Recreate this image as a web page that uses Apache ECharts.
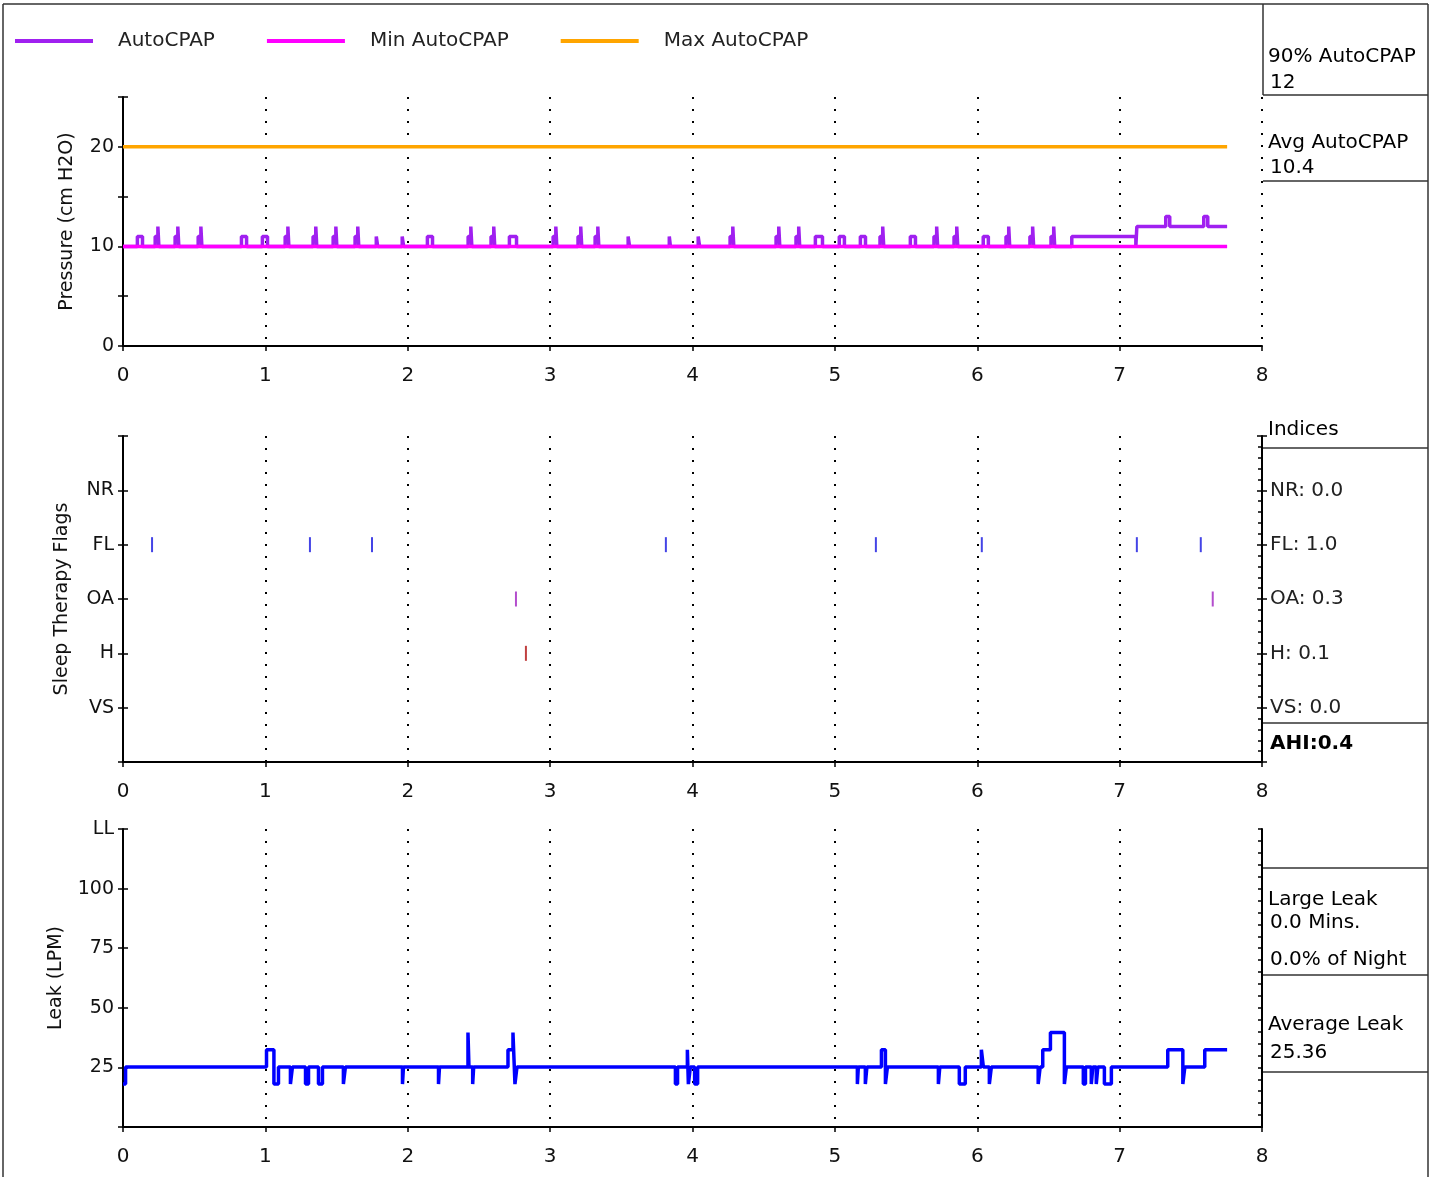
<!DOCTYPE html>
<html><head><meta charset="utf-8">
<script src="https://cdn.jsdelivr.net/npm/echarts@6/dist/echarts.min.js"></script>
<style>html,body{margin:0;padding:0;background:#fff}#c{width:1432px;height:1177px}</style>
</head><body><div id="c"></div>
<script>
// ---------- data ----------
const hourTicks = [0, 1, 2, 3, 4, 5, 6, 7, 8];
const pressureSeriesNames = ['AutoCPAP', 'Min AutoCPAP', 'Max AutoCPAP'];
// AutoCPAP change points [hour, cmH2O] (value holds until next point)
const autoCpapSteps = [
  [0,10],
  [0.101,11],[0.137,10],
  [0.226,11],[0.245,12],[0.252,10],
  [0.366,11],[0.385,12],[0.392,10],
  [0.528,11],[0.547,12],[0.554,10],
  [0.832,11],[0.868,10],
  [0.979,11],[1.015,10],
  [1.139,11],[1.158,12],[1.165,10],
  [1.335,11],[1.354,12],[1.361,10],
  [1.476,11],[1.495,12],[1.502,10],
  [1.630,11],[1.649,12],[1.656,10],
  [1.779,11],[1.789,10],
  [1.961,11],[1.971,10],
  [2.138,11],[2.174,10],
  [2.424,11],[2.443,12],[2.450,10],
  [2.585,11],[2.604,12],[2.611,10],
  [2.714,11],[2.764,10],
  [3.021,11],[3.040,12],[3.047,10],
  [3.196,11],[3.215,12],[3.222,10],
  [3.316,11],[3.335,12],[3.342,10],
  [3.548,11],[3.558,10],
  [3.837,11],[3.845,10],
  [4.040,11],[4.050,10],
  [4.264,11],[4.283,12],[4.290,10],
  [4.587,11],[4.606,12],[4.613,10],
  [4.727,11],[4.746,12],[4.753,10],
  [4.863,11],[4.913,10],
  [5.031,11],[5.067,10],
  [5.179,11],[5.215,10],
  [5.317,11],[5.336,12],[5.343,10],
  [5.530,11],[5.566,10],
  [5.696,11],[5.715,12],[5.722,10],
  [5.837,11],[5.856,12],[5.863,10],
  [6.042,11],[6.078,10],
  [6.202,11],[6.221,12],[6.228,10],
  [6.370,11],[6.389,12],[6.396,10],
  [6.518,11],[6.537,12],[6.544,10],
  [6.664,11],[7.114,10],[7.121,12],
  [7.324,13],[7.352,12],
  [7.591,13],[7.619,12],
  [7.755,12]
];
const minAutoCpap = [[0,10],[7.755,10]];
const maxAutoCpap = [[0,20],[7.755,20]];

const flagCategories = ['VS', 'H', 'OA', 'FL', 'NR'];     // y = 1..5
const flagIndices    = ['0.0', '0.1', '0.3', '1.0', '0.0'];
const flFlags = [0.204, 1.313, 1.749, 3.813, 5.288, 6.032, 7.121, 7.570];
const oaFlags = [2.760, 7.654];
const hFlags  = [2.830];

// Leak change points [hour, L/min]
const leakSteps = [
  [0,18],[0.018,25.2],
  [1.008,32.4],[1.060,18],[1.092,25.2],
  [1.176,18],[1.190,25.2],
  [1.282,18],[1.303,25.2],
  [1.373,18],[1.401,25.2],
  [1.548,18],[1.562,25.2],
  [1.963,18],[1.970,25.2],
  [2.216,18],[2.223,25.2],
  [2.423,39.6],[2.430,25.2],[2.456,18],[2.463,25.2],
  [2.704,32.4],[2.739,39.6],[2.753,18],[2.767,25.2],
  [3.880,18],[3.895,25.2],
  [3.964,32.4],[3.971,18],[3.985,25.2],[4.015,18],[4.036,25.2],
  [5.158,18],[5.165,25.2],
  [5.214,18],[5.225,25.2],
  [5.327,32.4],[5.355,18],[5.369,25.2],
  [5.727,18],[5.737,25.2],
  [5.874,18],[5.916,25.2],
  [6.029,32.4],[6.043,25.2],[6.085,18],[6.099,25.2],
  [6.428,18],[6.442,25.2],
  [6.460,32.4],[6.514,39.6],[6.612,18],[6.626,25.2],
  [6.745,18],[6.760,25.2],
  [6.801,18],[6.812,25.2],
  [6.836,18],[6.847,25.2],
  [6.893,18],[6.942,25.2],
  [7.338,32.4],[7.444,18],[7.458,25.2],
  [7.598,32.4],[7.755,32.4]
];
const leakTickLabels = {0: '', 25: '25', 50: '50', 75: '75', 100: '100', 125: 'LL'};

const pressureStats = [['90% AutoCPAP', '12'], ['Avg AutoCPAP', '10.4']];
const indicesTitle = 'Indices';
const ahiText = 'AHI:0.4';
const leakStats = ['Large Leak', '0.0 Mins.', '0.0% of Night', 'Average Leak', '25.36'];

// ---------- chart ----------
const FONT = 'DejaVu Sans';
const TXT = '#111';
const chart = echarts.init(document.getElementById('c'), null, {renderer: 'canvas'});

function xAxis(grid) {
  return {
    type: 'value', gridIndex: grid, min: hourTicks[0], max: hourTicks[hourTicks.length - 1], interval: 1,
    axisLine: {show: true, onZero: false, lineStyle: {color: '#000', width: 2}},
    axisTick: {show: true, length: 5, lineStyle: {color: '#000', width: 1.5}},
    axisLabel: {fontSize: 20, fontFamily: FONT, color: TXT, margin: 20},
    splitLine: {show: true, lineStyle: {color: '#000', width: 2, type: [2, 10]}}
  };
}
function yBase(grid, min, max, interval) {
  return {type: 'value', gridIndex: grid, min, max, interval, splitLine: {show: false}};
}
function dupInside(grid, min, max, interval, position, minor) {
  return Object.assign(yBase(grid, min, max, interval), {
    position,
    axisLine: {show: false},
    axisTick: {show: true, inside: true, length: 5, lineStyle: {color: '#000', width: 1.5}},
    minorTick: minor ? {show: true, splitNumber: 5, length: 4, lineStyle: {color: '#000', width: 1.5}} : {show: false},
    axisLabel: {show: false}
  });
}
const axisLineStyle = {show: true, onZero: false, lineStyle: {color: '#000', width: 2}};
const tickOut = {show: true, inside: false, length: 5, lineStyle: {color: '#000', width: 1.5}};
const nameStyle = {fontSize: 19, fontFamily: FONT, color: TXT};
const yLabel = {fontSize: 19, fontFamily: FONT, color: TXT, margin: 9};

const yAxes = [
  // 0 pressure left
  Object.assign(yBase(0, 0, 25, 5), {
    position: 'left', axisLine: axisLineStyle, axisTick: tickOut,
    axisLabel: Object.assign({}, yLabel, {formatter: v => (v % 10 === 0 ? String(v) : '')}),
    name: 'Pressure (cm H2O)', nameLocation: 'middle', nameGap: 46, nameTextStyle: nameStyle
  }),
  // 1 pressure left inside ticks
  dupInside(0, 0, 25, 5, 'left', false),
  // 2 flags left
  Object.assign(yBase(1, 0, 6, 1), {
    position: 'left', axisLine: axisLineStyle, axisTick: tickOut,
    axisLabel: Object.assign({}, yLabel, {formatter: v => (v >= 1 && v <= 5 ? flagCategories[v - 1] : '')}),
    name: 'Sleep Therapy Flags', nameLocation: 'middle', nameGap: 51, nameTextStyle: nameStyle
  }),
  // 3 flags left inside ticks
  dupInside(1, 0, 6, 1, 'left', false),
  // 4 flags right (indices)
  Object.assign(yBase(1, 0, 6, 1), {
    position: 'right', axisLine: axisLineStyle, axisTick: tickOut,
    axisLabel: {fontSize: 20, fontFamily: FONT, color: '#222', margin: 8,
      formatter: v => (v >= 1 && v <= 5 ? flagCategories[v - 1] + ': ' + flagIndices[v - 1] : '')}
  }),
  // 5 flags right inside ticks + minor
  dupInside(1, 0, 6, 1, 'right', true),
  // 6 leak left
  Object.assign(yBase(2, 0, 125, 25), {
    position: 'left', axisLine: axisLineStyle, axisTick: tickOut,
    axisLabel: Object.assign({}, yLabel, {formatter: v => leakTickLabels[v] ?? ''}),
    name: 'Leak (LPM)', nameLocation: 'middle', nameGap: 57, nameTextStyle: nameStyle
  }),
  // 7 leak left inside ticks
  dupInside(2, 0, 125, 25, 'left', false),
  // 8 leak right
  Object.assign(yBase(2, 0, 125, 25), {
    position: 'right', axisLine: axisLineStyle,
    axisTick: {show: true, inside: true, length: 4, lineStyle: {color: '#000', width: 1.5}},
    minorTick: {show: true, splitNumber: 5, length: 4, lineStyle: {color: '#000', width: 1.5}},
    axisLabel: {show: false}
  })
];

function flagSeries(name, hours, level, color) {
  return {
    name, type: 'scatter', xAxisIndex: 1, yAxisIndex: 2, symbol: 'rect', symbolSize: [2, 15],
    itemStyle: {color}, data: hours.map(h => [h, level]), silent: true
  };
}

const lineStroke = (c) => ({color: c, width: 3.5});
const frame = '#333';
function hLine(x1, y, x2) { return {type: 'line', shape: {x1, y1: y, x2, y2: y}, style: {stroke: frame, lineWidth: 1.5}, silent: true}; }
function vLine(x, y1, y2) { return {type: 'line', shape: {x1: x, y1, x2: x, y2}, style: {stroke: frame, lineWidth: 1.5}, silent: true}; }
function txt(text, x, y, bold) {
  return {type: 'text', x, y, style: {text, fontSize: 20, fontFamily: FONT, fontWeight: bold ? 'bold' : 'normal', fill: '#000', textVerticalAlign: 'middle', textAlign: 'left'}, silent: true};
}

const option = {
  animation: false,
  backgroundColor: '#fff',
  textStyle: {fontFamily: FONT},
  legend: {
    data: pressureSeriesNames, left: 15, top: 31, padding: 0, icon: 'rect', itemWidth: 78, itemHeight: 4, itemGap: 52,
    textStyle: {fontSize: 20, fontFamily: FONT, color: '#222', padding: [0, 0, 0, 20]}, selectedMode: false
  },
  grid: [
    {left: 123, right: 170, top: 97, height: 249},
    {left: 123, right: 170, top: 436, height: 326},
    {left: 123, right: 170, top: 829, height: 298}
  ],
  xAxis: [xAxis(0), xAxis(1), xAxis(2)],
  yAxis: yAxes,
  series: [
    {name: pressureSeriesNames[0], type: 'line', step: 'end', xAxisIndex: 0, yAxisIndex: 0, showSymbol: false,
      color: '#a020f0', lineStyle: lineStroke('#a020f0'), data: autoCpapSteps, silent: true},
    {name: pressureSeriesNames[1], type: 'line', xAxisIndex: 0, yAxisIndex: 0, showSymbol: false,
      color: '#ff00ff', lineStyle: lineStroke('#ff00ff'), data: minAutoCpap, silent: true},
    {name: pressureSeriesNames[2], type: 'line', xAxisIndex: 0, yAxisIndex: 0, showSymbol: false,
      color: '#ffa500', lineStyle: lineStroke('#ffa500'), data: maxAutoCpap, silent: true},
    flagSeries('FL', flFlags, 4, '#1515e0'),
    flagSeries('OA', oaFlags, 3, '#a020c0'),
    flagSeries('H', hFlags, 2, '#b01010'),
    {name: 'Leak', type: 'line', step: 'end', xAxisIndex: 2, yAxisIndex: 6, showSymbol: false,
      color: '#0000ff', lineStyle: lineStroke('#0000ff'), data: leakSteps, silent: true}
  ],
  graphic: [
    vLine(3, 4, 1177), hLine(3, 4, 1428), vLine(1428, 4, 1177), vLine(1263, 4, 95),
    hLine(1263, 95, 1428), hLine(1263, 181, 1428),
    hLine(1263, 448, 1428), hLine(1263, 723, 1428),
    hLine(1263, 868, 1428), hLine(1263, 975, 1428), hLine(1263, 1072, 1428),
    txt(pressureStats[0][0], 1268, 57), txt(pressureStats[0][1], 1270, 83),
    txt(pressureStats[1][0], 1268, 143), txt(pressureStats[1][1], 1270, 168),
    txt(indicesTitle, 1268, 430), txt(ahiText, 1270, 744, true),
    txt(leakStats[0], 1268, 900), txt(leakStats[1], 1270, 923), txt(leakStats[2], 1270, 960),
    txt(leakStats[3], 1268, 1025), txt(leakStats[4], 1270, 1053)
  ]
};
chart.setOption(option);
</script>
</body></html>
